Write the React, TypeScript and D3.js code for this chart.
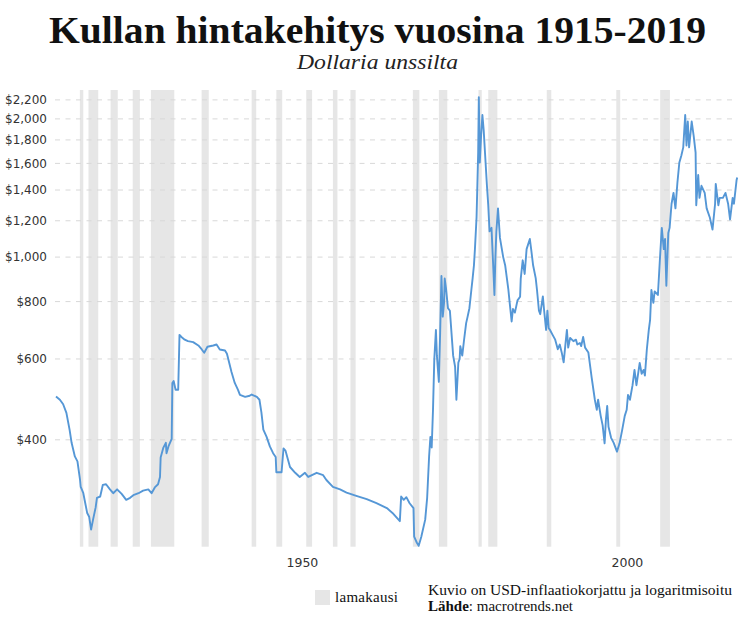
import * as d3 from 'd3';

// Kullan hinta (USD/unssi, inflaatiokorjattu), luettu kuvasta
const years = [
  1915.0, 1915.6, 1916.1, 1916.6, 1917.1, 1917.4, 1917.9, 1918.3, 1918.7, 1918.8,
  1919.0, 1919.2, 1919.8, 1920.1, 1920.4, 1920.7, 1921.1, 1921.3, 1921.8, 1922.2,
  1922.7, 1923.3, 1923.8, 1924.4, 1925.1, 1925.8, 1926.4, 1926.9, 1927.7, 1928.4,
  1929.2, 1929.7, 1930.2, 1930.7, 1931.0, 1931.1, 1931.5, 1931.9, 1932.0, 1932.3,
  1932.8, 1932.9, 1933.1, 1933.4, 1933.8, 1934.0, 1934.3, 1934.8, 1935.3, 1936.1,
  1936.9, 1937.4, 1937.8, 1938.3, 1939.2, 1939.7, 1940.2, 1941.0, 1941.3, 1942.0,
  1942.5, 1943.0, 1943.3, 1944.1, 1944.8, 1945.1, 1945.9, 1946.3, 1946.6, 1946.9,
  1947.4, 1947.9, 1948.4, 1948.8, 1948.9, 1949.7, 1950.0, 1950.3, 1951.0, 1951.8,
  1952.5, 1953.3, 1953.8, 1955.1, 1956.1, 1956.6, 1957.6, 1958.7, 1959.7, 1961.2,
  1962.8, 1964.3, 1965.9, 1966.9, 1967.9, 1968.1, 1968.5, 1968.9, 1969.4, 1970.0,
  1970.1, 1970.5, 1970.8, 1971.2, 1971.8, 1972.1, 1972.4, 1972.6, 1972.8, 1973.0,
  1973.2, 1973.45, 1973.6, 1973.9, 1974.1, 1974.3, 1974.5, 1974.7, 1974.8, 1975.0,
  1975.3, 1975.6, 1975.9, 1976.1, 1976.4, 1976.6, 1976.9, 1977.1, 1977.2, 1977.5,
  1977.8, 1978.1, 1978.3, 1978.6, 1978.9, 1979.1, 1979.3, 1979.45, 1979.7, 1979.95,
  1980.05, 1980.2, 1980.4, 1980.6, 1980.8, 1981.0, 1981.3, 1981.5, 1981.7, 1982.0,
  1982.3, 1982.45, 1982.6, 1982.75, 1983.0, 1983.3, 1983.8, 1984.1, 1984.6, 1984.8,
  1985.1, 1985.3, 1985.6, 1986.0, 1986.4, 1986.5, 1986.8, 1987.1, 1987.4, 1987.9,
  1988.1, 1988.4, 1988.8, 1989.0, 1989.3, 1989.5, 1989.9, 1990.1, 1990.4, 1990.6,
  1990.8, 1991.0, 1991.4, 1991.8, 1992.2, 1992.5, 1992.8, 1993.1, 1993.4, 1993.6,
  1993.8, 1994.1, 1994.6, 1995.0, 1995.2, 1995.6, 1995.8, 1996.1, 1996.4, 1996.9,
  1997.4, 1997.9, 1998.2, 1998.4, 1998.8, 1999.1, 1999.4, 1999.6, 1999.8, 2000.0,
  2000.4, 2000.8, 2001.3, 2001.7, 2002.1, 2002.5, 2002.8, 2003.0, 2003.3, 2003.7,
  2004.0, 2004.3, 2004.8, 2005.1, 2005.4, 2005.6, 2005.9, 2006.2, 2006.4, 2006.6,
  2006.9, 2007.1, 2007.6, 2007.9, 2008.2, 2008.5, 2008.7, 2008.9, 2009.2, 2009.4,
  2009.7, 2010.0, 2010.3, 2010.6, 2010.9, 2011.2, 2011.5, 2011.8, 2012.0, 2012.2,
  2012.4, 2012.8, 2013.1, 2013.4, 2013.5, 2013.8, 2014.0, 2014.3, 2014.8, 2015.1,
  2015.6, 2016.0, 2016.4, 2016.5, 2016.9, 2017.1, 2017.6, 2018.0, 2018.4, 2018.7,
  2019.1, 2019.3, 2019.7, 2019.8,
];
const prices = [
  497, 489, 478, 458, 420, 394, 368, 359, 327, 316,
  311, 306, 277, 272, 255, 268, 285, 299, 301, 319,
  320, 312, 306, 312, 305, 296, 299, 303, 306, 310,
  312, 306, 315, 320, 332, 366, 384, 394, 374, 387,
  402, 532, 537, 514, 514, 677, 670, 661, 656, 653,
  642, 630, 619, 638, 642, 645, 629, 626, 616, 562,
  532, 514, 501, 496, 499, 502, 496, 489, 459, 421,
  406, 387, 374, 367, 340, 340, 383, 379, 349, 339,
  332, 339, 332, 339, 335, 327, 316, 312, 307, 302,
  297, 291, 284, 276, 266, 301, 296, 300, 291, 284,
  246, 239, 235, 246, 268, 299, 368, 406, 385, 465,
  600, 694, 610, 535, 684, 910, 742, 795, 898, 855,
  774, 764, 667, 610, 577, 489, 589, 600, 640, 610,
  664, 718, 739, 774, 848, 900, 960, 1041, 1220, 1688,
  2230, 1607, 1838, 2040, 1888, 1688, 1430, 1297, 1138, 1158,
  931, 827, 1000, 1138, 1277, 1101, 1000, 960, 848, 795,
  724, 771, 757, 805, 820, 898, 984, 919, 1041, 1095,
  1041, 960, 900, 848, 764, 751, 821, 764, 694, 764,
  700, 694, 677, 661, 630, 645, 620, 590, 651, 694,
  635, 667, 656, 661, 645, 650, 640, 670, 635, 620,
  548, 489, 465, 489, 451, 430, 393, 442, 474, 427,
  404, 394, 377, 393, 420, 451, 465, 501, 489, 526,
  568, 526, 588, 557, 568, 552, 630, 694, 730, 848,
  795, 842, 827, 984, 1158, 1041, 1095, 866, 1128, 1158,
  1307, 1380, 1277, 1452, 1607, 1662, 1734, 2040, 1750, 1974,
  1734, 1974, 1838, 1688, 1297, 1510, 1346, 1430, 1380, 1277,
  1218, 1148, 1307, 1444, 1297, 1346, 1346, 1380, 1307, 1208,
  1346, 1307, 1470, 1490,
];

// Yhdysvaltain lamakaudet (alku, loppu)
const recessionStart = [
  1918.67, 1920.0, 1923.4, 1926.8, 1929.6, 1937.4, 1945.1, 1948.9, 1953.5,
  1957.6, 1960.3, 1969.9, 1973.9, 1980.0, 1981.5, 1990.5, 2001.2, 2007.95,
];
const recessionEnd = [
  1919.2, 1921.5, 1924.5, 1927.9, 1933.2, 1938.5, 1945.8, 1949.8, 1954.4,
  1958.3, 1961.1, 1970.9, 1975.2, 1980.5, 1982.9, 1991.2, 2001.8, 2009.45,
];

const yTicks = [400, 600, 800, 1000, 1200, 1400, 1600, 1800, 2000, 2200];
const xTicks = [1950, 2000];

const W = 744;
const H = 620;
const PLOT = { left: 56, right: 738.5, top: 90, bottom: 546.7 };
const LINE_COLOR = '#5597d6';
const BAND_COLOR = '#e6e6e6';
const SERIF = '"Liberation Serif", "DejaVu Serif", serif';
const SANS = '"DejaVu Sans", Verdana, sans-serif';

export default function App() {
  const x = d3.scaleLinear().domain([1915, 2020]).range([PLOT.left, PLOT.right]);
  const y = d3.scaleLog().domain([234, 2312]).range([PLOT.bottom, PLOT.top]);

  const points: [number, number][] = years.map((yr, i) => [yr, prices[i]]);
  const line = d3
    .line<[number, number]>()
    .x((d) => x(d[0]))
    .y((d) => y(d[1]));

  const fmt = d3.format(',');

  return (
    <svg
      width={W}
      height={H}
      style={{ position: 'absolute', left: 0, top: 0, background: '#fff' }}
    >
      <text
        x={377.5}
        y={43}
        textAnchor="middle"
        fontFamily={SERIF}
        fontWeight="bold"
        fontSize={37}
        textLength={657}
        lengthAdjust="spacingAndGlyphs"
        fill="#111"
      >
        Kullan hintakehitys vuosina 1915-2019
      </text>
      <text
        x={377.5}
        y={69}
        textAnchor="middle"
        fontFamily={SERIF}
        fontStyle="italic"
        fontSize={21}
        textLength={161}
        lengthAdjust="spacingAndGlyphs"
        fill="#222"
      >
        Dollaria unssilta
      </text>

      {recessionStart.map((s, i) => (
        <rect
          key={s}
          x={x(s)}
          y={PLOT.top}
          width={x(recessionEnd[i]) - x(s)}
          height={PLOT.bottom - PLOT.top}
          fill={BAND_COLOR}
        />
      ))}

      {yTicks.map((t) => (
        <g key={t}>
          <line
            x1={55}
            x2={736}
            y1={y(t)}
            y2={y(t)}
            stroke="#d8d8d8"
            strokeDasharray="5,5.5"
          />
          <text
            x={47}
            y={y(t)}
            dy="0.35em"
            textAnchor="end"
            fontFamily={SANS}
            fontSize={12}
            fill="#333"
          >
            ${fmt(t)}
          </text>
        </g>
      ))}

      {xTicks.map((t) => (
        <text
          key={t}
          x={x(t) + 3}
          y={567}
          fontFamily={SANS}
          fontSize={12.5}
          fill="#333"
        >
          {t}
        </text>
      ))}

      <path
        d={line(points) ?? ''}
        fill="none"
        stroke={LINE_COLOR}
        strokeWidth={1.9}
        strokeLinejoin="round"
      />

      <rect x={315} y={590} width={15} height={15} fill={BAND_COLOR} />
      <text x={335} y={602} fontFamily={SERIF} fontSize={15} fill="#111" textLength={63}>
        lamakausi
      </text>
      <text
        x={428}
        y={595}
        fontFamily={SERIF}
        fontSize={15}
        fill="#111"
        textLength={304}
        lengthAdjust="spacingAndGlyphs"
      >
        Kuvio on USD-inflaatiokorjattu ja logaritmisoitu
      </text>
      <text x={428} y={611} fontFamily={SERIF} fontSize={15} fill="#111">
        <tspan fontWeight="bold">Lähde</tspan>: macrotrends.net
      </text>
    </svg>
  );
}
